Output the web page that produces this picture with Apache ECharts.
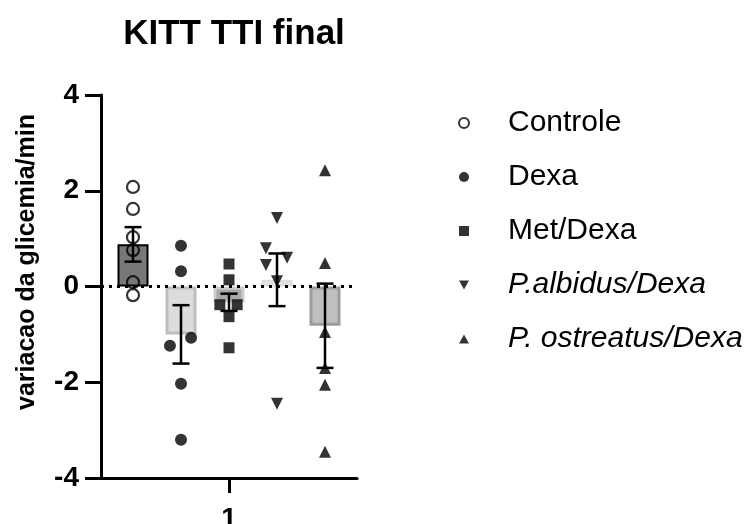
<!DOCTYPE html>
<html>
<head>
<meta charset="utf-8">
<script src="https://cdn.jsdelivr.net/npm/echarts@6/dist/echarts.min.js"></script>
<style>
  html, body { margin: 0; padding: 0; background: #ffffff; }
  #chart { width: 750px; height: 524px; }
</style>
</head>
<body>
<div id="chart"></div>
<script>
// Groups, in drawing order
const groups = ['Controle', 'Dexa', 'Met/Dexa', 'P.albidus/Dexa', 'P. ostreatus/Dexa'];
const xCategory = ['1'];

// Bar heights (group means) and error bars (SEM)
const meanValues = [0.88, -1.00, -0.33, 0.14, -0.82];
const semValues = [0.36, 0.61, 0.18, 0.55, 0.88];

// Individual animals per group
const controleValues = [2.08, 1.62, 1.03, 0.76, 0.09, -0.18];
const dexaValues = [0.85, 0.32, -1.24, -1.07, -2.03, -3.20];
const metDexaValues = [0.47, 0.14, -0.38, -0.38, -0.63, -1.28];
const albidusValues = [1.43, 0.80, 0.60, 0.45, 0.11, -2.45];
const ostreatusValues = [2.43, 0.49, -0.95, -1.70, -2.05, -3.45];

// Sideways spread of overlapping points (in group widths)
const controleSpread = [0, 0, 0, 0, 0, 0];
const dexaSpread = [0, 0, -0.23, 0.21, 0, 0];
const metDexaSpread = [0, 0, -0.19, 0.17, 0, 0];
const albidusSpread = [0, -0.23, 0.21, -0.23, 0, 0];
const ostreatusSpread = [0, 0, 0, 0, 0, 0];

const pointValues = [controleValues, dexaValues, metDexaValues, albidusValues, ostreatusValues];
const pointSpread = [controleSpread, dexaSpread, metDexaSpread, albidusSpread, ostreatusSpread];

const barFill = ['#787878', '#dcdcdc', '#a9a9a9', '#e8e8e8', '#bfbfbf'];
const barEdge = ['#000000', '#bdbdbd', '#cdcdcd', '#dedede', '#9c9c9c'];
const barEdgeWidth = [2, 3, 3, 3, 3];

const markerSymbol = ['circle', 'circle', 'rect', 'path://M0,0L10,0L5,9Z', 'path://M5,0L10,9L0,9Z'];
const markerSize = [12, 12, 11, 12, 12];

const FONT = 'Liberation Sans, Arial, Helvetica, sans-serif';

const scatterSeries = groups.map((name, g) => ({
  name: name,
  type: 'scatter',
  xAxisIndex: 1,
  symbol: markerSymbol[g],
  symbolSize: markerSize[g],
  z: 5,
  itemStyle: g === 0
    ? { color: 'rgba(0,0,0,0)', borderColor: '#000', borderWidth: 2.2 }
    : { color: '#000' },
  data: pointValues[g].map((v, i) => [g + pointSpread[g][i], v])
}));

const chart = echarts.init(document.getElementById('chart'), null, { renderer: 'canvas' });

chart.setOption({
  animation: false,
  backgroundColor: '#ffffff',
  title: {
    text: 'KITT TTI final',
    left: 229,
    textAlign: 'center',
    top: 12,
    textStyle: { fontFamily: FONT, fontSize: 35, fontWeight: 'bold', color: '#000' }
  },
  grid: { left: 101, right: 393, top: 95, bottom: 46, containLabel: false, outerBoundsMode: 'none' },
  legend: {
    orient: 'vertical',
    left: 458,
    top: 108,
    padding: 0,
    itemWidth: 10,
    itemHeight: 10,
    itemGap: 24,
    data: groups,
    formatter: name => (name.charAt(0) === 'P' ? '{i|' + name + '}' : '{n|' + name + '}'),
    textStyle: {
      rich: {
        n: { fontFamily: FONT, fontSize: 30, lineHeight: 30, color: '#000', padding: [0, 0, 0, 34] },
        i: { fontFamily: FONT, fontSize: 30, lineHeight: 30, color: '#000', fontStyle: 'italic', padding: [0, 0, 0, 34] }
      }
    }
  },
  graphic: [{
    type: 'text',
    x: 27,
    y: 262,
    rotation: Math.PI / 2,
    style: {
      text: 'variacao da glicemia/min',
      font: 'bold 25px ' + FONT,
      fill: '#000',
      textAlign: 'center',
      textVerticalAlign: 'middle'
    }
  }],
  xAxis: [{
    type: 'category',
    data: xCategory,
    position: 'bottom',
    axisLine: { show: true, onZero: false, lineStyle: { color: '#000', width: 3 } },
    axisTick: { show: true, alignWithLabel: true, length: 15, lineStyle: { color: '#000', width: 3 } },
    axisLabel: { margin: 27, fontFamily: FONT, fontSize: 28, fontWeight: 'bold', color: '#000' },
    splitLine: { show: false }
  }, {
    type: 'value',
    min: -2 / 3,
    max: 14 / 3,
    show: false,
    axisLine: { onZero: false }
  }],
  yAxis: {
    type: 'value',
    min: -4,
    max: 4,
    interval: 2,
    axisLine: { show: true, onZero: false, lineStyle: { color: '#000', width: 3 } },
    axisTick: { show: true, inside: false, length: 16, lineStyle: { color: '#000', width: 3 } },
    axisLabel: { margin: 22, fontFamily: FONT, fontSize: 28, fontWeight: 'bold', color: '#000' },
    splitLine: { show: false }
  },
  series: [{
    name: 'media',
    type: 'bar',
    xAxisIndex: 1,
    barWidth: 31,
    z: 2,
    data: meanValues.map((m, g) => ({
      value: [g, m],
      itemStyle: { color: barFill[g], borderColor: barEdge[g], borderWidth: barEdgeWidth[g] }
    }))
  }, {
    name: 'sem',
    type: 'custom',
    xAxisIndex: 1,
    z: 4,
    encode: { x: 0, y: 1 },
    data: meanValues.map((m, g) => [g, m, semValues[g]]),
    renderItem: (params, api) => {
      const x = api.value(0), m = api.value(1), s = api.value(2);
      const hi = api.coord([x, m + s]);
      const lo = api.coord([x, m - s]);
      const cap = 8.5;
      const st = { stroke: '#000', lineWidth: 2.5 };
      return {
        type: 'group',
        children: [
          { type: 'line', shape: { x1: hi[0], y1: hi[1], x2: lo[0], y2: lo[1] }, style: st },
          { type: 'line', shape: { x1: hi[0] - cap, y1: hi[1], x2: hi[0] + cap, y2: hi[1] }, style: st },
          { type: 'line', shape: { x1: lo[0] - cap, y1: lo[1], x2: lo[0] + cap, y2: lo[1] }, style: st }
        ]
      };
    },
    markLine: {
      silent: true,
      symbol: ['none', 'none'],
      label: { show: false },
      lineStyle: { color: '#000', width: 3, type: [3, 5] },
      data: [{ yAxis: 0 }]
    }
  }].concat(scatterSeries)
});
</script>
</body>
</html>
